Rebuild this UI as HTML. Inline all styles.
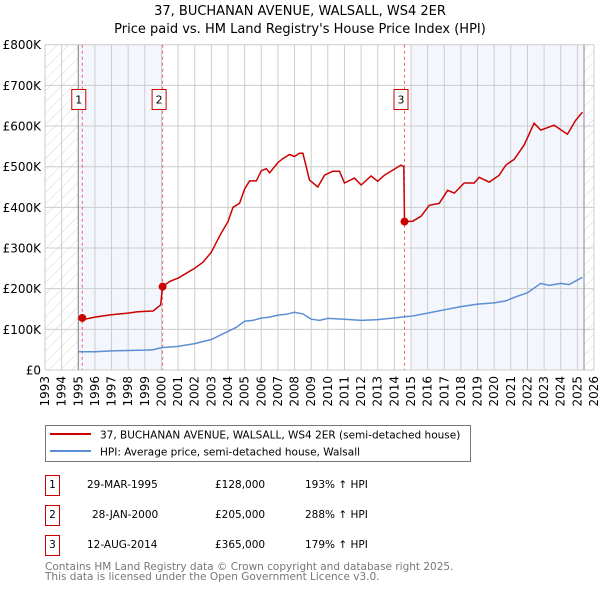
<!DOCTYPE html>
<html><head><meta charset="utf-8"><style>
body{margin:0;background:#fff;font-family:"DejaVu Sans","Liberation Sans",sans-serif;}
svg text{font-family:"DejaVu Sans","Liberation Sans",sans-serif;}
</style></head><body>
<svg id="chart" width="600" height="590" xmlns="http://www.w3.org/2000/svg">
<defs><pattern id="hatch" width="8" height="8" patternUnits="userSpaceOnUse" patternTransform="rotate(45)"><line x1="0" y1="0" x2="0" y2="8" stroke="#d8d8d8" stroke-width="1"/></pattern></defs>
<text x="300" y="15" text-anchor="middle" font-size="13">37, BUCHANAN AVENUE, WALSALL, WS4 2ER</text>
<text x="300" y="33" text-anchor="middle" font-size="13">Price paid vs. HM Land Registry's House Price Index (HPI)</text>
<g id="plot"></g>
<g>
<rect x="45.5" y="425.5" width="425" height="36" fill="#fff" stroke="#777"/>
<line x1="50" y1="434" x2="91" y2="434" stroke="#cc0000" stroke-width="2"/>
<text x="100" y="438.5" font-size="10.5">37, BUCHANAN AVENUE, WALSALL, WS4 2ER (semi-detached house)</text>
<line x1="50" y1="451" x2="91" y2="451" stroke="#5b8fd4" stroke-width="2"/>
<text x="100" y="455.5" font-size="10.5">HPI: Average price, semi-detached house, Walsall</text>
</g>
<g font-size="10.5">
<rect x="45.5" y="475.5" width="14" height="20" fill="#fff" stroke="#cc0000"/><text x="52.5" y="488" text-anchor="middle">1</text>
<text x="87" y="488">29-MAR-1995</text><text x="215" y="488">£128,000</text><text x="305" y="488">193% ↑ HPI</text>
<rect x="45.5" y="505.5" width="14" height="20" fill="#fff" stroke="#cc0000"/><text x="52.5" y="518" text-anchor="middle">2</text>
<text x="92" y="518">28-JAN-2000</text><text x="215" y="518">£205,000</text><text x="305" y="518">288% ↑ HPI</text>
<rect x="45.5" y="535.5" width="14" height="20" fill="#fff" stroke="#cc0000"/><text x="52.5" y="548" text-anchor="middle">3</text>
<text x="87" y="548">12-AUG-2014</text><text x="215" y="548">£365,000</text><text x="305" y="548">179% ↑ HPI</text>
</g>
<text x="45" y="570" font-size="10.5" fill="#777">Contains HM Land Registry data © Crown copyright and database right 2025.</text>
<text x="45" y="580" font-size="10.5" fill="#777">This data is licensed under the Open Government Licence v3.0.</text>
</svg>
<script>
const yTicks=[0,100,200,300,400,500,600,700,800];
const yTickLabels=["£0","£100K","£200K","£300K","£400K","£500K","£600K","£700K","£800K"];
const saleYears=[1995.24,2000.07,2014.61];
const saleValues=[128,205,365];
const saleLabels=["1","2","3"];
const redYears=[1995.24,1995.5,1996,1996.5,1997,1997.5,1998,1998.5,1999,1999.5,1999.95,2000.07,2000.5,2001,2001.5,2002,2002.5,2003,2003.5,2004,2004.3,2004.7,2005,2005.3,2005.7,2006,2006.3,2006.5,2007,2007.3,2007.7,2008.0,2008.3,2008.5,2008.9,2009.4,2009.8,2010.3,2010.7,2011,2011.6,2012,2012.6,2013,2013.4,2014,2014.4,2014.57,2014.61,2015.1,2015.6,2016.1,2016.7,2017.2,2017.6,2018.2,2018.8,2019.1,2019.7,2020.3,2020.7,2021.2,2021.8,2022.4,2022.8,2023.6,2024.4,2024.9,2025.3];
const redValues=[128,126,130,133,136,138,140,143,144,145,160,205,218,226,238,250,265,290,330,365,400,410,445,465,465,490,495,485,510,520,530,525,533,533,467,450,479,489,489,460,472,455,477,464,479,494,504,500,365,366,378,405,410,442,435,460,460,474,462,479,504,518,553,607,590,602,580,614,634];
const blueYears=[1995,1996,1997,1998,1999,1999.5,2000,2001,2002,2003,2003.5,2004,2004.5,2005,2005.5,2006,2006.5,2007,2007.5,2008,2008.5,2009,2009.5,2010,2011,2012,2013,2014,2014.6,2015,2016,2017,2018,2019,2020,2020.7,2021.3,2022,2022.8,2023.3,2024,2024.5,2025.3];
const blueValues=[45,45,47,48,49,50,55,58,65,75,85,95,105,120,122,128,130,135,137,142,138,125,122,127,125,122,124,128,131,132,140,148,156,162,165,170,180,190,213,208,213,210,228];
const x0=45,x1=594,y0=370,y1=44.7;
const X=yr=>x0+(yr-1993)/33*(x1-x0);
const Y=v=>y0-v/800*(y0-y1);
const NS="http://www.w3.org/2000/svg";
const plot=document.getElementById('plot');
function mk(tag,attrs,parent){const e=document.createElementNS(NS,tag);for(const k in attrs)e.setAttribute(k,attrs[k]);(parent||plot).appendChild(e);return e;}
let r;
r=mk('rect',{x:x0,y:y1,width:X(1995)-x0,height:y0-y1,fill:'url(#hatch)'});


r=mk('rect',{x:X(2025.4),y:y1,width:x1-X(2025.4),height:y0-y1,fill:'url(#hatch)'});


r=mk('rect',{x:X(1995),y:y1,width:X(2000.07)-X(1995),height:y0-y1,fill:'#f3f7fd'});


r=mk('rect',{x:X(2015),y:y1,width:X(2025.4)-X(2015),height:y0-y1,fill:'#f3f7fd'});


for(let yr=1993;yr<=2026;yr++){
 const l=mk('line',{x1:X(yr),x2:X(yr),y1:y1,y2:y0,stroke:'#ccc','stroke-width':1});
 
 
 const t=mk('text',{x:0,y:0,'font-size':12,'text-anchor':'end',transform:`translate(${X(yr)+4},376) rotate(-90)`});
 t.textContent=yr;
 
 
}
yTicks.forEach((v,i)=>{
 const l=mk('line',{x1:x0,x2:x1,y1:Y(v),y2:Y(v),stroke:'#ccc','stroke-width':1});
 
 
 const t=mk('text',{x:41,y:Y(v)+4.5,'font-size':12,'text-anchor':'end'});
 t.textContent=yTickLabels[i];
 
 
});
r=mk('line',{x1:X(1995),x2:X(1995),y1:y1,y2:y0,stroke:'#888','stroke-width':1});


r=mk('line',{x1:X(2025.4),x2:X(2025.4),y1:y1,y2:y0,stroke:'#888','stroke-width':1});


saleYears.forEach((yr,i)=>{
 const l=mk('line',{x1:X(yr),x2:X(yr),y1:y1,y2:y0,stroke:'#f06070','stroke-width':1,'stroke-dasharray':'3,3'});
 
 
});
const bp=blueYears.map((yr,i)=>X(yr).toFixed(1)+','+Y(blueValues[i]).toFixed(1)).join(' ');
r=mk('polyline',{points:bp,fill:'none',stroke:'#5b8fd4','stroke-width':1.5});


const rp=redYears.map((yr,i)=>X(yr).toFixed(1)+','+Y(redValues[i]).toFixed(1)).join(' ');
r=mk('polyline',{points:rp,fill:'none',stroke:'#cc0000','stroke-width':1.5});


saleYears.forEach((yr,i)=>{
 const c=mk('circle',{cx:X(yr),cy:Y(saleValues[i]),r:4,fill:'#cc0000'});
 
 
 const bx=mk('rect',{x:X(yr)-10.5,y:89.5,width:14,height:20,fill:'#fff',stroke:'#cc0000'});
 
 
 const t=mk('text',{x:X(yr)-3.5,y:103.5,'font-size':11,'text-anchor':'middle'});
 t.textContent=saleLabels[i];
 
 
});
</script>
</body></html>
